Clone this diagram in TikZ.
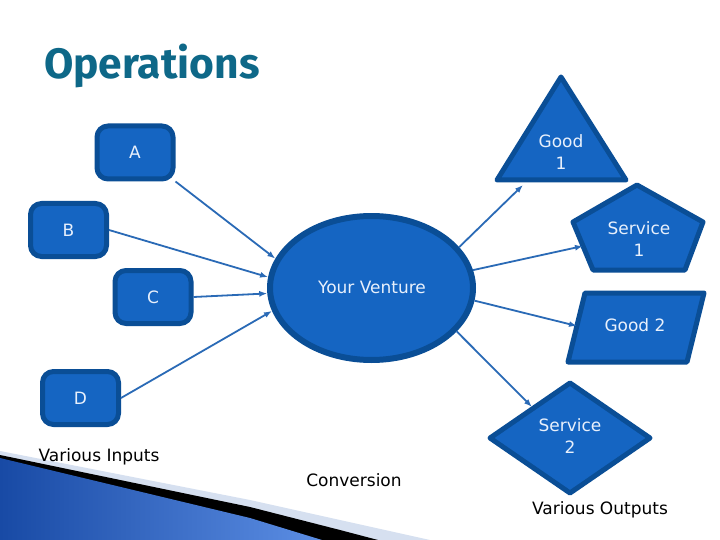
\documentclass[tikz,border=0pt]{standalone}
\usepackage{fontspec}
\setmainfont{DejaVu Sans}
\newfontfamily\titlefont{Fira Sans}
\usetikzlibrary{arrows.meta,shapes.geometric}
\definecolor{shapefill}{RGB}{21,101,194}
\definecolor{shapeedge}{RGB}{10,78,150}
\definecolor{shapetext}{RGB}{232,240,252}
\definecolor{arrowblue}{RGB}{42,106,182}
\definecolor{titleteal}{RGB}{14,104,136}
\definecolor{bandgray}{RGB}{214,224,240}
\definecolor{swooshdark}{RGB}{24,74,165}
\definecolor{swooshlight}{RGB}{92,142,228}
\begin{document}
\begin{tikzpicture}[x=1pt,y=-1pt,
  blockshape/.style={draw=shapeedge, fill=shapefill, line width=5pt, line join=round},
  boxnode/.style={blockshape, rounded corners=11pt, minimum width=76pt, minimum height=53pt, inner sep=0pt, text=shapetext, font=\fontsize{17}{22}\selectfont},
  shapelabel/.style={text=shapetext, font=\fontsize{17}{22}\selectfont, align=center, inner sep=0pt},
  plainlabel/.style={text=black, font=\fontsize{17}{22}\selectfont, inner sep=0pt},
  flow/.style={draw=arrowblue, line width=1.8pt, -{Latex[length=8pt,width=6pt]}}]
\useasboundingbox (0,0) rectangle (720,540);
\fill[white] (0,0) rectangle (720,540);

% bottom-left swoosh
\fill[bandgray] (0,451) -- (250,500) -- (430,540) -- (0,540) -- cycle;
\fill[black] (0,455) -- (250,507) -- (340,530) -- (378,540) -- (0,540) -- cycle;
\shade[left color=swooshdark, right color=swooshlight] (0,458) -- (250,518) -- (322,540) -- (0,540) -- cycle;

% title
\node[font=\titlefont\bfseries\fontsize{42.5}{42.5}\selectfont, text=titleteal, anchor=base west, inner sep=0pt] (title) at (44,79) {Operations};

% inputs
\node[boxnode] (A) at (135,152.5) {A};
\node[boxnode] (B) at (68.5,230) {B};
\node[boxnode] (C) at (153,297) {C};
\node[boxnode] (D) at (80.5,398) {D};

% venture
\node[blockshape, ellipse, line width=6pt, minimum width=203pt, minimum height=144pt, inner sep=0pt] (V) at (371.5,288) {};
\node[shapelabel] (Vt) at (372,287) {Your Venture};

% outputs
\draw[blockshape] (561,77) -- (626,180) -- (497,180) -- cycle;
\node[shapelabel] (G1) at (561,152) {Good\\1};
\coordinate (G1in) at (523,185);

\draw[blockshape] (637,185) -- (703,222) -- (685,270) -- (593,270) -- (573,222) -- cycle;
\node[shapelabel] (S1) at (639,239) {Service\\1};
\coordinate (S1in) at (583,246);

\draw[blockshape] (585,293) -- (704,293) -- (687,362) -- (568,362) -- cycle;
\node[shapelabel] (G2) at (635,325) {Good 2};
\coordinate (G2in) at (577,326);

\draw[blockshape] (570,383) -- (650,438) -- (570,493) -- (490,438) -- cycle;
\node[shapelabel] (S2) at (570,436) {Service\\2};
\coordinate (S2in) at (532,407);

% plain labels
\node[plainlabel] (inputs) at (99,457) {Various Inputs};
\node[plainlabel] (conv) at (354,480) {Conversion};
\node[plainlabel] (outputs) at (600,510) {Various Outputs};

% connectors
\draw[flow] (A.south east) -- (V.163);
\draw[flow] (B.east) -- (V.174);
\draw[flow] (C.east) -- (V.183);
\draw[flow] (D.east) -- (V.193);
\draw[flow] (V.25) -- (G1in);
\draw[flow] (V.10) -- (S1in);
\draw[flow] (V.-7) -- (G2in);
\draw[flow] (V.-27) -- (S2in);
\end{tikzpicture}
\end{document}
